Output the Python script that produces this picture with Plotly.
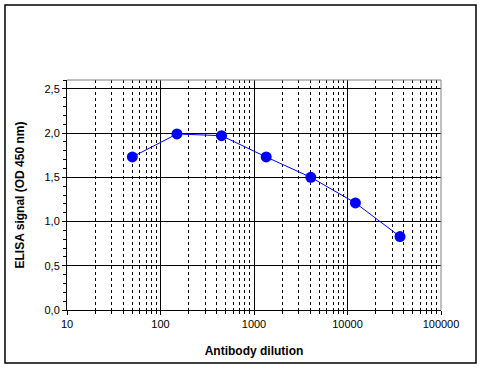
import plotly.graph_objects as go

dilution = [50, 150, 450, 1350, 4050, 12150, 36450]
signal = [1.73, 1.99, 1.97, 1.73, 1.50, 1.21, 0.83]
x_tick_vals = [10, 100, 1000, 10000, 100000]
x_tick_text = ["10", "100", "1000", "10000", "100000"]
y_tick_vals = [0.0, 0.5, 1.0, 1.5, 2.0, 2.5]
y_tick_text = ["0,0", "0,5", "1,0", "1,5", "2,0", "2,5"]
minor_x = [m * 10 ** k for k in range(1, 5) for m in range(2, 10)]

fig = go.Figure()
fig.add_trace(go.Scatter(
    x=dilution, y=signal, mode="lines+markers",
    line=dict(color="#0000FF", width=1),
    marker=dict(color="#0000FF", size=11),
    showlegend=False,
))

font = dict(family="Liberation Sans, Arial, sans-serif", color="black", size=11)

fig.update_layout(
    width=483, height=369,
    margin=dict(l=67, r=42, t=80, b=59, autoexpand=False),
    paper_bgcolor="white", plot_bgcolor="white",
    font=font,
    xaxis=dict(
        type="log", range=[1, 5], automargin=False,
        tickvals=x_tick_vals, ticktext=x_tick_text,
        showgrid=True, gridcolor="black", gridwidth=1,
        showline=True, linecolor="black", linewidth=1,
        ticks="outside", ticklen=4, tickcolor="black",
        minor=dict(tickvals=minor_x, showgrid=True, gridcolor="black",
                   griddash="3px,3px", gridwidth=1, ticks="outside", ticklen=3,
                   tickcolor="black"),
        zeroline=False,
        title=dict(text="<b>Antibody dilution</b>", font=dict(size=12), standoff=17),
        tickfont=dict(size=11),
    ),
    yaxis=dict(
        range=[0, 2.6], automargin=False,
        tickvals=y_tick_vals, ticktext=y_tick_text,
        showgrid=True, gridcolor="black", gridwidth=1,
        showline=True, linecolor="black", linewidth=1,
        ticks="outside", ticklen=4, tickcolor="black",
        minor=dict(dtick=0.1, ticks="outside", ticklen=3, tickcolor="black", showgrid=False),
        zeroline=False,
        title=dict(text="<b>ELISA signal (OD 450 nm)</b>", font=dict(size=12), standoff=17),
        tickfont=dict(size=11),
    ),
    shapes=[
        dict(type="line", xref="paper", yref="paper", x0=0, x1=1, y0=1, y1=1,
             line=dict(color="#808080", width=1)),
        dict(type="line", xref="paper", yref="paper", x0=1, x1=1, y0=0, y1=1,
             line=dict(color="#808080", width=1)),
        dict(type="rect", xref="paper", yref="paper",
             x0=-0.1658, x1=1.0936, y0=-0.2304, y1=1.326,
             line=dict(color="black", width=1.5), fillcolor="rgba(0,0,0,0)"),
    ],
)

fig.write_html("out.html", config={"displayModeBar": False},
               post_script="document.body.style.margin='0';document.body.style.overflow='hidden';")
